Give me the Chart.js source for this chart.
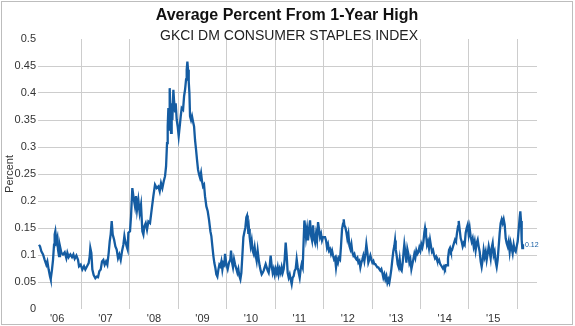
<!DOCTYPE html>
<html><head><meta charset="utf-8">
<script src="https://cdn.jsdelivr.net/npm/chart.js@4/dist/chart.umd.min.js"></script>
<style>html,body{margin:0;padding:0;background:#fff;}#wrap{width:575px;height:326px;}</style>
</head><body><div id="wrap"><canvas id="c" width="575" height="326"></canvas></div>
<script>
const titleText = 'Average Percent From 1-Year High';
const subtitleText = 'GKCI DM CONSUMER STAPLES INDEX';
const yAxisTitle = 'Percent';
const lastValueLabel = '0.12';

const dates = [
2006.127,2006.148,2006.175,2006.210,2006.244,2006.278,2006.299,2006.326,2006.354,2006.368,2006.395,2006.416,2006.437,2006.450,2006.464,2006.485,2006.505,2006.519,2006.540,2006.560,2006.588,2006.622,2006.657,2006.691,2006.712,2006.739,2006.774,2006.808,2006.836,2006.863,2006.898,2006.932,2006.953,2006.987,
2007.021,2007.056,2007.083,2007.118,2007.152,2007.173,2007.186,2007.207,2007.228,2007.255,2007.290,2007.317,2007.345,2007.372,2007.400,2007.427,2007.455,2007.482,2007.510,2007.537,2007.565,2007.586,2007.606,2007.627,2007.648,2007.675,2007.703,2007.730,2007.758,2007.785,2007.813,2007.840,2007.868,2007.889,
2007.902,2007.936,2007.957,2007.971,2008.005,2008.026,2008.053,2008.081,2008.108,2008.129,2008.150,2008.177,2008.205,2008.232,2008.260,2008.281,2008.301,2008.329,2008.356,2008.384,2008.418,2008.452,2008.487,2008.521,2008.556,2008.590,2008.618,2008.645,2008.673,2008.700,2008.728,2008.749,2008.769,2008.783,2008.797,2008.810,2008.824,2008.838,2008.852,2008.865,2008.879,2008.900,2008.913,2008.934,2008.948,2008.969,2008.989,
2009.010,2009.031,2009.052,2009.072,2009.100,2009.121,2009.141,2009.162,2009.175,2009.189,2009.203,2009.217,2009.231,2009.244,2009.265,2009.285,2009.306,2009.327,2009.347,2009.368,2009.388,2009.409,2009.430,2009.450,2009.471,2009.492,2009.512,2009.533,2009.553,2009.581,2009.609,2009.636,2009.664,2009.684,2009.705,2009.726,2009.746,2009.767,2009.787,2009.808,2009.829,2009.849,2009.870,2009.891,2009.911,2009.932,2009.952,
2009.966,2009.993,2010.021,2010.049,2010.076,2010.090,2010.111,2010.131,2010.152,2010.173,2010.200,2010.221,2010.241,2010.262,2010.283,2010.303,2010.324,2010.345,2010.365,2010.386,2010.406,2010.420,2010.434,2010.448,2010.461,2010.475,2010.496,2010.516,2010.537,2010.558,2010.578,2010.599,2010.619,2010.640,2010.661,2010.681,2010.702,2010.723,2010.743,2010.764,2010.784,2010.805,2010.826,2010.846,2010.867,2010.888,2010.908,2010.929,2010.950,2010.970,2010.991,
2011.011,2011.032,2011.053,2011.073,2011.094,2011.115,2011.135,2011.156,2011.177,2011.197,2011.218,2011.239,2011.259,2011.280,2011.301,2011.321,2011.342,2011.362,2011.383,2011.404,2011.424,2011.445,2011.466,2011.486,2011.507,2011.528,2011.548,2011.569,2011.590,2011.604,2011.617,2011.638,2011.659,2011.679,2011.700,2011.721,2011.741,2011.762,2011.783,2011.803,2011.824,2011.844,2011.865,2011.886,2011.906,2011.927,2011.948,2011.968,2011.989,
2012.030,2012.051,2012.071,2012.092,2012.113,2012.133,2012.154,2012.175,2012.195,2012.216,2012.237,2012.257,2012.278,2012.298,2012.319,2012.340,2012.360,2012.381,2012.402,2012.416,2012.429,2012.450,2012.471,2012.491,2012.512,2012.533,2012.553,2012.574,2012.594,2012.615,2012.636,2012.656,2012.677,2012.698,2012.718,2012.739,2012.759,2012.780,2012.801,2012.821,2012.842,2012.863,2012.883,2012.904,2012.924,2012.945,2012.966,2012.986,
2013.007,2013.028,2013.048,2013.069,2013.090,2013.110,2013.131,2013.151,2013.172,2013.193,2013.213,2013.234,2013.255,2013.275,2013.296,2013.317,2013.337,2013.358,2013.379,2013.399,2013.420,2013.441,2013.461,2013.475,2013.489,2013.509,2013.530,2013.551,2013.571,2013.592,2013.612,2013.633,2013.654,2013.667,2013.688,2013.709,2013.729,2013.750,2013.771,2013.791,2013.812,2013.832,2013.853,2013.874,2013.894,2013.915,2013.936,2013.956,2013.977,2013.998,
2014.018,2014.039,2014.059,2014.080,2014.094,2014.114,2014.135,2014.156,2014.176,2014.197,2014.218,2014.238,2014.259,2014.280,2014.300,2014.321,2014.341,2014.362,2014.383,2014.403,2014.424,2014.445,2014.465,2014.486,2014.506,2014.527,2014.548,2014.568,2014.589,2014.610,2014.630,2014.651,2014.672,2014.692,2014.713,2014.733,2014.754,2014.775,2014.789,2014.809,2014.830,2014.850,2014.871,2014.892,2014.912,2014.933,2014.954,2014.974,2014.995,
2015.015,2015.036,2015.057,2015.077,2015.098,2015.119,2015.139,2015.160,2015.181,2015.201,2015.222,2015.243,2015.263,2015.284,2015.304,2015.325,2015.346,2015.366,2015.387,2015.408,2015.428,2015.449,2015.469,2015.490,2015.511,2015.531,2015.552,2015.573,2015.593,2015.614,2015.635,2015.655,2015.676,2015.697,2015.717,2015.738,2015.759,2015.779,2015.800,2015.820,2015.841,2015.862,2015.882,2015.903,2015.924,2015.944,2015.965,2015.986,
2016.006,2016.027,2016.047,2016.061,2016.075,2016.089,2016.102,2016.116
];

const values = [
0.119,0.116,0.107,0.101,0.091,0.082,0.088,0.073,0.060,0.055,0.073,0.091,0.119,0.138,0.144,0.125,0.132,0.110,0.098,0.116,0.104,0.101,0.105,0.094,0.104,0.096,0.101,0.096,0.101,0.093,0.099,0.091,0.079,0.082,
0.073,0.079,0.073,0.079,0.085,0.098,0.113,0.104,0.073,0.063,0.057,0.060,0.059,0.070,0.073,0.088,0.091,0.082,0.088,0.082,0.104,0.125,0.138,0.163,0.138,0.129,0.116,0.110,0.094,0.101,0.091,0.107,0.119,0.135,
0.128,0.116,0.110,0.141,0.144,0.172,0.224,0.205,0.190,0.209,0.184,0.202,0.178,0.193,0.144,0.138,0.153,0.159,0.147,0.162,0.159,0.184,0.209,0.230,0.224,0.227,0.218,0.233,0.224,0.236,0.246,0.264,0.307,0.338,0.372,0.332,0.409,0.369,0.326,0.381,0.350,0.406,0.387,0.366,0.381,0.350,0.338,
0.320,0.338,0.357,0.372,0.369,0.394,0.406,0.425,0.443,0.458,0.443,0.421,0.400,0.357,0.350,0.357,0.347,0.338,0.313,0.295,0.276,0.258,0.249,0.243,0.252,0.236,0.227,0.230,0.209,0.190,0.181,0.165,0.144,0.135,0.116,0.098,0.085,0.076,0.064,0.060,0.073,0.082,0.079,0.088,0.073,0.085,0.082,
0.102,0.083,0.074,0.086,0.092,0.108,0.086,0.077,0.092,0.083,0.074,0.067,0.074,0.061,0.055,0.067,0.099,0.133,0.142,0.151,0.170,0.173,0.158,0.139,0.148,0.133,0.117,0.127,0.108,0.102,0.114,0.099,0.089,0.108,0.092,0.080,0.071,0.064,0.067,0.071,0.077,0.083,0.077,0.071,0.067,0.080,0.099,0.080,0.067,0.074,0.064,
0.074,0.067,0.077,0.064,0.074,0.067,0.077,0.067,0.074,0.092,0.123,0.099,0.067,0.058,0.064,0.055,0.046,0.058,0.061,0.071,0.074,0.092,0.077,0.067,0.058,0.074,0.083,0.077,0.130,0.164,0.155,0.133,0.148,0.127,0.148,0.164,0.136,0.127,0.155,0.130,0.123,0.139,0.127,0.161,0.148,0.133,0.139,0.127,0.133,
0.133,0.127,0.114,0.120,0.108,0.111,0.102,0.108,0.099,0.092,0.095,0.077,0.092,0.086,0.095,0.092,0.117,0.148,0.158,0.166,0.155,0.151,0.142,0.130,0.139,0.117,0.111,0.120,0.105,0.099,0.102,0.095,0.092,0.095,0.086,0.089,0.077,0.086,0.092,0.099,0.089,0.102,0.120,0.105,0.086,0.092,0.099,0.092,
0.086,0.089,0.083,0.083,0.080,0.077,0.077,0.074,0.071,0.074,0.067,0.058,0.064,0.055,0.061,0.049,0.055,0.049,0.061,0.074,0.092,0.108,0.117,0.127,0.111,0.099,0.083,0.077,0.092,0.074,0.071,0.086,0.108,0.120,0.105,0.086,0.111,0.102,0.086,0.092,0.074,0.083,0.092,0.102,0.095,0.108,0.102,0.105,0.114,0.108,
0.120,0.114,0.123,0.142,0.150,0.138,0.119,0.125,0.113,0.128,0.116,0.106,0.109,0.100,0.094,0.097,0.091,0.088,0.091,0.084,0.081,0.078,0.075,0.079,0.075,0.081,0.081,0.094,0.109,0.113,0.106,0.109,0.116,0.122,0.128,0.125,0.141,0.153,0.163,0.147,0.131,0.125,0.116,0.122,0.119,0.141,0.150,0.156,0.138,
0.150,0.134,0.125,0.131,0.116,0.125,0.109,0.122,0.128,0.116,0.106,0.088,0.078,0.091,0.109,0.097,0.106,0.091,0.103,0.116,0.106,0.094,0.113,0.122,0.100,0.106,0.088,0.078,0.091,0.116,0.141,0.159,0.166,0.159,0.166,0.156,0.131,0.122,0.116,0.125,0.106,0.122,0.113,0.103,0.119,0.109,0.106,0.116,
0.125,0.147,0.169,0.181,0.163,0.128,0.113,0.120
];

const yearGridLines = [2007,2008,2009,2010,2011,2012,2013,2014,2015,2016];
const xTickPositions = [2006.5,2007.5,2008.5,2009.5,2010.5,2011.5,2012.5,2013.5,2014.5,2015.5];
const xTickLabels = ["'06","'07","'08","'09","'10","'11","'12","'13","'14","'15"];
const yTicks = [0,0.05,0.1,0.15,0.2,0.25,0.3,0.35,0.4,0.45,0.5];
const yTickLabels = ['0','0.05','0.1','0.15','0.2','0.25','0.3','0.35','0.4','0.45','0.5'];

const LINE = '#145ca2';
const GRID = '#cdcdcd';
const FONT = '"Liberation Sans", Arial, sans-serif';

const decor = {
  id: 'decor',
  beforeDraw(chart) {
    const c = chart.ctx;
    c.save(); c.fillStyle = '#fff'; c.fillRect(0, 0, chart.width, chart.height); c.restore();
  },
  afterDraw(chart) {
    const c = chart.ctx;
    c.save();
    c.textAlign = 'center';
    c.textBaseline = 'alphabetic';
    c.fillStyle = '#111';
    c.font = 'bold 16px ' + FONT;
    c.fillText(titleText, 287, 20);
    c.fillStyle = '#222';
    c.font = '14px ' + FONT;
    c.fillText(subtitleText, 289, 40);
    const meta = chart.getDatasetMeta(0);
    const pt = meta.data[meta.data.length - 1];
    c.fillStyle = LINE;
    c.font = '7px ' + FONT;
    c.textAlign = 'left';
    c.textBaseline = 'middle';
    c.fillText(lastValueLabel, pt.x + 2, pt.y + 1);
    c.strokeStyle = '#bdbdbd';
    c.lineWidth = 1;
    c.strokeRect(1.5, 1.5, 571, 323);
    c.restore();
  }
};

new Chart(document.getElementById('c'), {
  type: 'line',
  data: {
    datasets: [{
      data: dates.map((d, i) => ({x: d, y: values[i]})),
      borderColor: LINE,
      borderWidth: 2.3,
      pointRadius: 0,
      tension: 0,
      fill: false
    }]
  },
  options: {
    responsive: false,
    animation: false,
    devicePixelRatio: 1,
    layout: {padding: {left: 0, right: 38, top: 39, bottom: 0}},
    plugins: {legend: {display: false}, tooltip: {enabled: false}, title: {display: false}},
    scales: {
      x: {
        type: 'linear',
        min: 2006.106,
        max: 2016.405,
        afterBuildTicks: s => {
          const t = [];
          yearGridLines.forEach(v => t.push({value: v}));
          xTickPositions.forEach(v => t.push({value: v}));
          t.sort((a, b) => a.value - b.value);
          s.ticks = t;
        },
        afterFit: s => { s.height = 17; },
        border: {display: false},
        grid: {
          drawTicks: false,
          lineWidth: 1,
          color: ctx => (ctx.tick && yearGridLines.includes(ctx.tick.value)) ? GRID : 'rgba(0,0,0,0)'
        },
        ticks: {
          autoSkip: false,
          maxRotation: 0,
          padding: 3,
          color: '#333',
          font: {family: FONT, size: 11},
          callback: v => {
            const i = xTickPositions.indexOf(v);
            return i >= 0 ? xTickLabels[i] : '';
          }
        }
      },
      y: {
        min: 0,
        max: 0.5,
        afterBuildTicks: s => { s.ticks = yTicks.map(v => ({value: v})); },
        afterFit: s => { s.width = 38; },
        border: {display: false},
        grid: {
          drawTicks: false,
          lineWidth: 1,
          color: ctx => (ctx.tick && (ctx.tick.value === 0 || ctx.tick.value === 0.5)) ? 'rgba(0,0,0,0)' : GRID
        },
        ticks: {
          padding: 2,
          color: '#333',
          font: {family: FONT, size: 11},
          callback: v => { const i = yTicks.indexOf(v); return i >= 0 ? yTickLabels[i] : ''; }
        },
        title: {
          display: true,
          text: yAxisTitle,
          color: '#333',
          font: {family: FONT, size: 11},
          padding: {top: 3, bottom: 0}
        }
      }
    }
  },
  plugins: [decor]
});
</script></body></html>
